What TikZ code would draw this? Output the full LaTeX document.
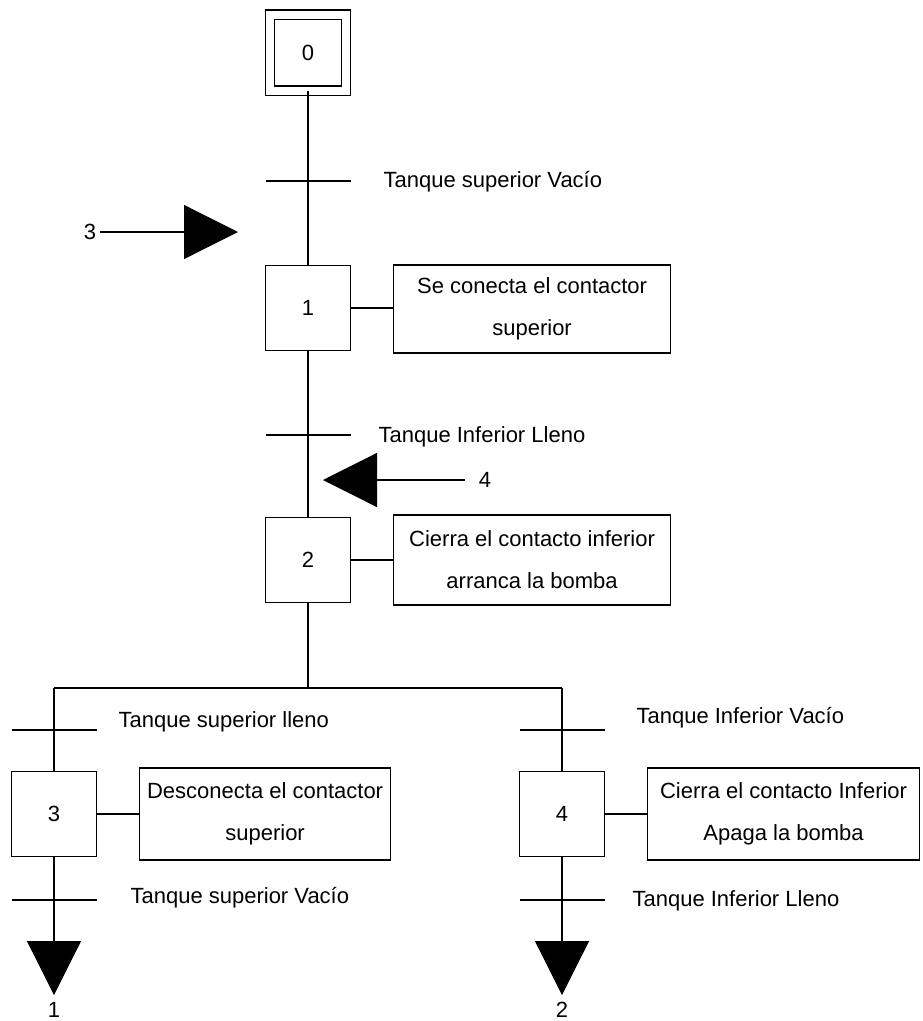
\documentclass[tikz,border=0pt]{standalone}
\usepackage{fontspec}
\setmainfont{Liberation Sans}
\usetikzlibrary{arrows.meta}

\tikzset{
	etapa/.style={draw, line width=1.2pt, minimum size=85pt, inner sep=0pt},
	inicial/.style={draw, line width=1.2pt, double, double distance=8pt, minimum size=76pt, inner sep=0pt},
	accion/.style={draw, line width=1.2pt, align=center, anchor=west, inner sep=0pt},
	receptividad/.style={anchor=west, inner sep=0pt},
	flecha/.style={line width=1.2pt, -{Triangle[length=54pt,width=54pt]}}
}

\begin{document}
\begin{tikzpicture}[x=1pt, y=-1pt, line width=1.2pt, font=\fontsize{22}{42}\selectfont]
			\useasboundingbox (0,0) rectangle (923,1021);
			% etapas
			\node[inicial] (e0) at (308, 52.5) {0};
			\node[etapa] (e1) at (308, 308) {1};
			\node[etapa] (e2) at (308, 560) {2};
			\node[etapa] (e3) at (54, 814) {3};
			\node[etapa] (e4) at (562, 814) {4};
			% acciones
			\node[accion, minimum width=277pt, minimum height=88pt] (a1) at (393, 309) {Se conecta el contactor\\superior};
			\node[accion, minimum width=277pt, minimum height=90pt] (a2) at (393, 560) {Cierra el contacto inferior\\arranca la bomba};
			\node[accion, minimum width=251pt, minimum height=92pt] (a3) at (139, 814) {Desconecta el contactor\\superior};
			\node[accion, minimum width=272pt, minimum height=92pt] (a4) at (647, 814) {Cierra el contacto Inferior\\Apaga la bomba};
			\draw (e1.east) -- (e1.east -| a1.west);
			\draw (e2.east) -- (e2.east -| a2.west);
			\draw (e3.east) -- (e3.east -| a3.west);
			\draw (e4.east) -- (e4.east -| a4.west);
			% enlaces
			\coordinate (t1) at (308, 181);
			\coordinate (t2) at (308, 435);
			\coordinate (t3) at (54, 730);
			\coordinate (t4) at (562, 730);
			\coordinate (t5) at (54, 900);
			\coordinate (t6) at (562, 900);
			\coordinate (div) at (308, 688);
			\draw (e0.south) -- (e1.north);
			\draw (e1.south) -- (e2.north);
			\draw (e2.south) -- (div);
			\draw (54, 688) -- (562, 688);
			\draw (54, 688) -- (e3.north);
			\draw (562, 688) -- (e4.north);
			% receptividades
			\foreach \t in {t1, t2, t3, t4, t5, t6}
				\draw ([xshift=-42.5pt]\t) -- ([xshift=42.5pt]\t);
			\node[receptividad] (r1) at (383, 182) {Tanque superior Vacío};
			\node[receptividad] (r2) at (378, 437) {Tanque Inferior Lleno};
			\node[receptividad] (r3) at (118, 722) {Tanque superior lleno};
			\node[receptividad] (r4) at (636, 718) {Tanque Inferior Vacío};
			\node[receptividad] (r5) at (130, 898) {Tanque superior Vacío};
			\node[receptividad] (r6) at (632, 901) {Tanque Inferior Lleno};
			% saltos
			\node (n3) at (90, 232) {3};
			\coordinate (p3) at (238, 232);
			\draw[flecha] (n3.east) -- (p3);
			\node (n4) at (485, 480) {4};
			\coordinate (p4) at (323, 480);
			\draw[flecha, shorten <=10pt] (n4.west) -- (p4);
			\node (s1) at (54, 1010) {1};
			\node (s2) at (562, 1010) {2};
			\coordinate (f1) at (54, 995);
			\coordinate (f2) at (562, 995);
			\draw[flecha] (e3.south) -- (f1);
			\draw[flecha] (e4.south) -- (f2);
		\end{tikzpicture}
\end{document}
